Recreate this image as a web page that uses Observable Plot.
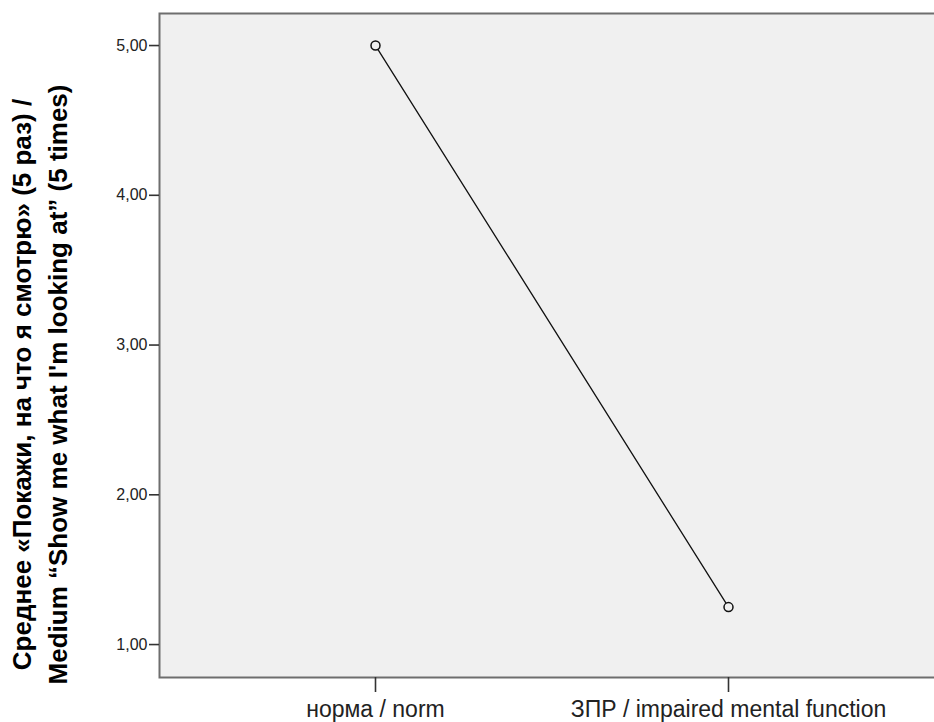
<!DOCTYPE html>
<html>
<head>
<meta charset="utf-8">
<script src="https://cdn.jsdelivr.net/npm/d3@7"></script>
<script src="https://cdn.jsdelivr.net/npm/@observablehq/plot@0.6"></script>
<style>
  html, body { margin: 0; padding: 0; background: #ffffff; }
  #chart svg { display: block; }
</style>
</head>
<body>
<div id="chart"></div>
<script>
// Data
const categories = ["норма / norm", "ЗПР / impaired mental function"];
const means = [5.00, 1.25];
const yTicks = [1, 2, 3, 4, 5];
const yTitle = "Среднее «Покажи, на что я смотрю» (5 раз) /\nMedium “Show me what I'm looking at” (5 times)";

const data = categories.map((c, i) => ({group: c, value: means[i]}));
const fmt = v => d3.format(".2f")(v).replace(".", ",");

const chart = Plot.plot({
  width: 934,
  height: 722,
  marginLeft: 159,
  marginTop: 13,
  marginBottom: 45,
  marginRight: -4,
  style: {fontFamily: "Liberation Sans, Arial, sans-serif", background: "#ffffff"},
  x: {type: "point", domain: categories, range: [375, 728], padding: 0, axis: null},
  y: {domain: [0.78, 5.214], axis: null},
  marks: [
    Plot.frame({fill: "#f0f0f0", stroke: "#6e6e6e", strokeWidth: 2}),
    Plot.axisY(yTicks, {
      anchor: "left", tickFormat: fmt, tickSize: 10, tickPadding: 2,
      fontSize: 16, color: "#222", stroke: "#333", strokeWidth: 1.6, label: null
    }),
    Plot.axisX(categories, {
      anchor: "bottom", tickSize: 15, tickPadding: 8,
      fontSize: 23, color: "#222", stroke: "#333", strokeWidth: 1.6, label: null
    }),
    Plot.line(data, {x: "group", y: "value", stroke: "#111", strokeWidth: 1.3}),
    Plot.dot(data, {x: "group", y: "value", r: 4.5, stroke: "#111", strokeWidth: 1.5, fill: "#f0f0f0"}),
    Plot.text([yTitle], {
      frameAnchor: "left", rotate: -90, dx: -122, dy: 39,
      text: d => d, fontSize: 26, fontWeight: "bold", fill: "#000",
      lineHeight: 1.38, lineAnchor: "middle", textAnchor: "middle"
    })
  ]
});
document.getElementById("chart").appendChild(chart);
</script>
</body>
</html>
